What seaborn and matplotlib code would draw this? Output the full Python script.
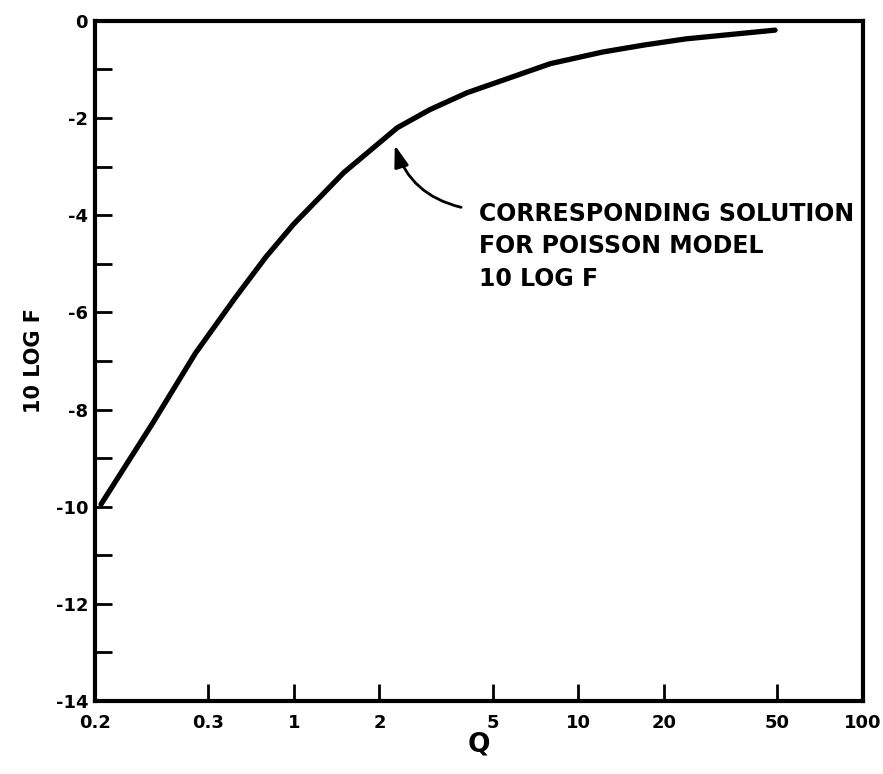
import numpy as np
import pandas as pd
import matplotlib
matplotlib.use("Agg")
import matplotlib.pyplot as plt
from matplotlib.ticker import FixedLocator, MultipleLocator, NullLocator
import seaborn as sns

# values
Q_VALUES = [0.21, 0.319, 0.451, 0.622, 0.8, 1.0, 1.5, 2.31, 3.0, 4.06, 7.98, 12.2, 16.9, 23.9, 49.2]
LOG_F = [-9.95, -8.28, -6.84, -5.70, -4.85, -4.18, -3.12, -2.2, -1.83, -1.48, -0.88, -0.64, -0.5, -0.37, -0.19]

X_TICKS = [0.2, 0.5, 1, 2, 5, 10, 20, 50, 100]
X_TICK_LABELS = ["0.2", "0.3", "1", "2", "5", "10", "20", "50", "100"]
Y_TICKS = [0, -2, -4, -6, -8, -10, -12, -14]

INK = "black"

sns.set_style("white")
plt.rcParams["font.family"] = ["DejaVu Sans"]
plt.rcParams["font.weight"] = "bold"
plt.rcParams["axes.unicode_minus"] = False

df = pd.DataFrame({"Q": Q_VALUES, "logf": LOG_F})

fig = plt.figure(figsize=(8.83, 7.74), dpi=100, facecolor="white")
ax = fig.add_axes([0.1076, 0.0943, 0.8694, 0.8787])

sns.lineplot(data=df, x="Q", y="logf", ax=ax, color=INK, linewidth=3.8,
             solid_capstyle="round", solid_joinstyle="round")

ax.set_xscale("log")
ax.set_xlim(0.2, 100)
ax.set_ylim(-14, 0)

ax.xaxis.set_major_locator(FixedLocator(X_TICKS))
ax.xaxis.set_minor_locator(NullLocator())
ax.set_xticklabels(X_TICK_LABELS)
ax.yaxis.set_major_locator(FixedLocator(Y_TICKS))
ax.yaxis.set_minor_locator(MultipleLocator(1))

ax.tick_params(axis="both", which="both", direction="in", color=INK,
               width=2, length=12, labelsize=13, labelcolor=INK,
               bottom=True, left=True, top=False, right=False)
ax.tick_params(axis="x", pad=9)
ax.tick_params(axis="y", pad=5)
for lbl in ax.get_xticklabels() + ax.get_yticklabels():
    lbl.set_fontweight("bold")

for spine in ax.spines.values():
    spine.set_edgecolor(INK)
    spine.set_linewidth(3)

ax.set_xlabel("Q", fontsize=19, fontweight="bold", labelpad=0, color=INK)
ax.set_ylabel("10 LOG F", fontsize=15, fontweight="bold", labelpad=8, color=INK)

ax.text(4.47, -3.72, "CORRESPONDING SOLUTION\nFOR POISSON MODEL\n10 LOG F",
        fontsize=17, fontweight="bold", va="top", ha="left",
        linespacing=1.45, color=INK)
ax.annotate("", xy=(2.25, -2.5), xytext=(3.96, -3.85),
            arrowprops=dict(arrowstyle="-|>,head_length=0.55,head_width=0.18",
                            color=INK, lw=2, mutation_scale=24,
                            connectionstyle="arc3,rad=-0.3"))

fig.savefig("out.png", dpi=100, facecolor="white")
